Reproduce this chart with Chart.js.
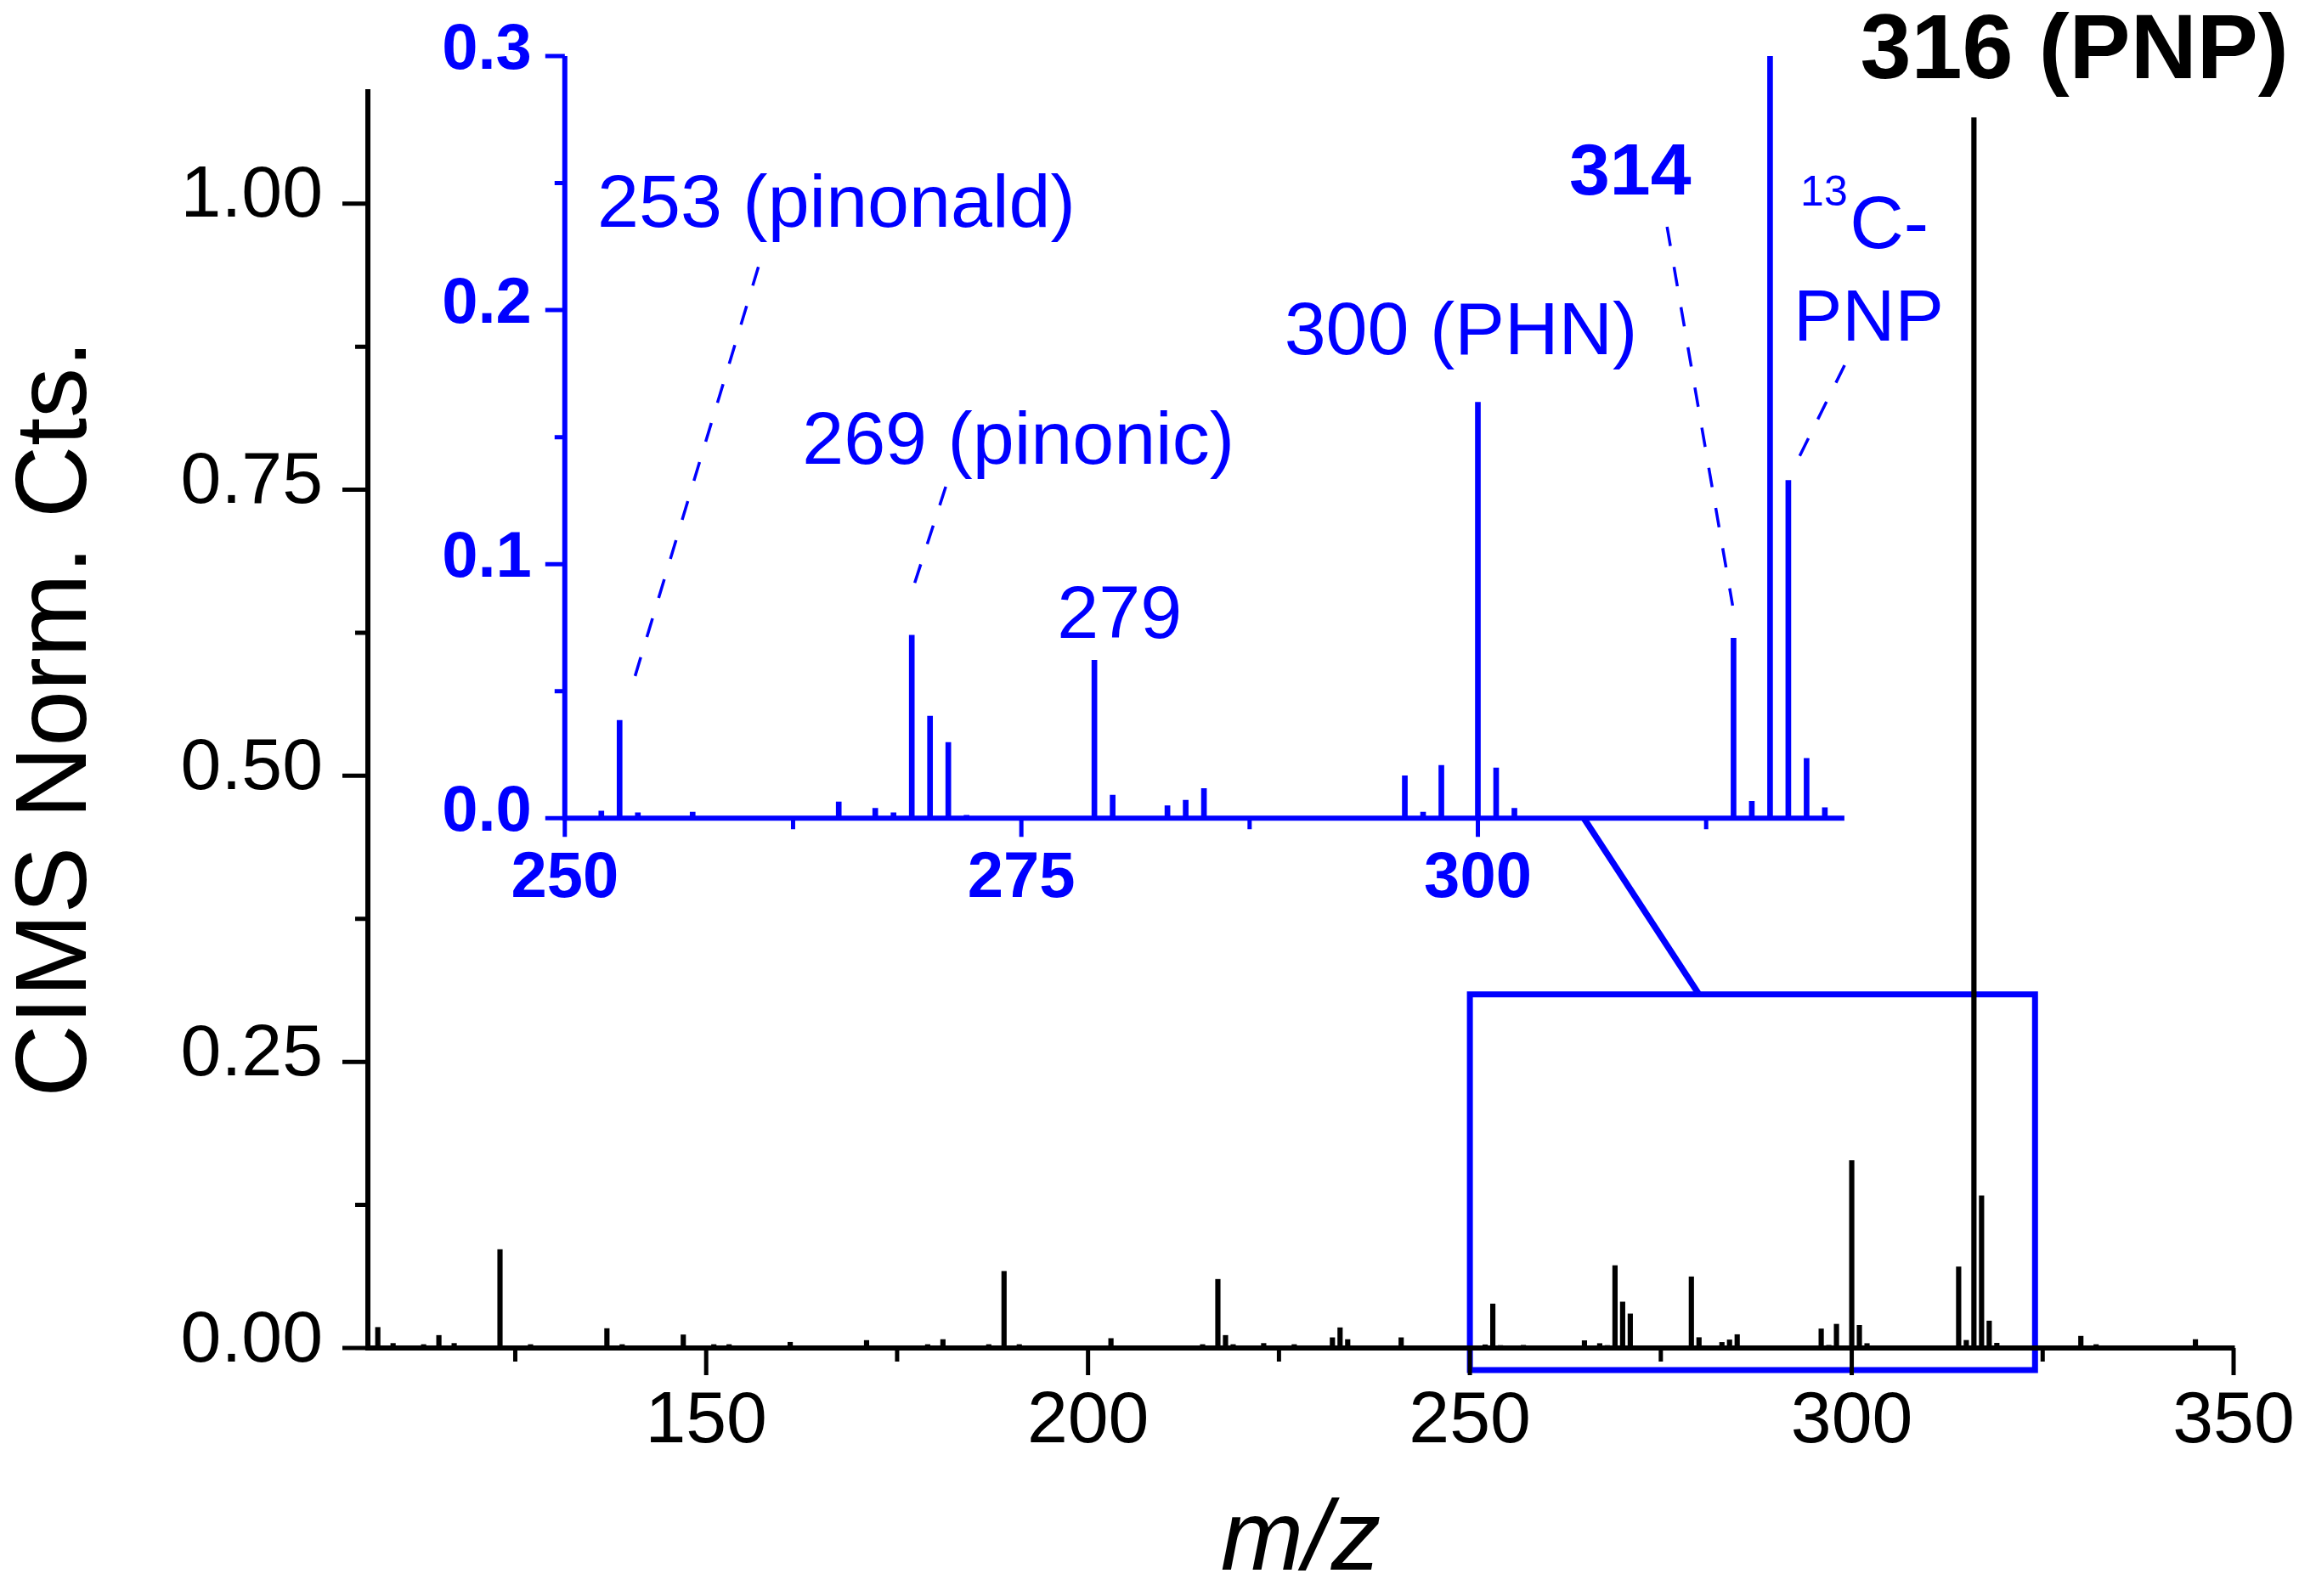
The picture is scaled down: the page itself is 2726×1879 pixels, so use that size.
<!DOCTYPE html>
<html>
<head>
<meta charset="utf-8">
<script src="https://cdn.jsdelivr.net/npm/chart.js"></script>
<style>
html,body{margin:0;padding:0;background:#fff;overflow:hidden;width:2726px;height:1879px}
canvas{position:absolute;left:0;top:0}
</style>
</head>
<body>
<canvas id="mainChart" width="2726" height="1879"></canvas>
<canvas id="insetChart" width="2726" height="1879"></canvas>
<script>
// ---- data ----
const mzValues = [107,109,113,115,117,122,123,127,133,137,139,142,147,148,151,153,155,161,167,171,179,181,187,189,191,203,215,217,218,219,223,227,232,233,234,241,252,253,254,257,265,267,268,269,270,271,272,279,280,283,284,285,296,297,298,300,301,302,314,315,316,317,318,319,330,332,345];
const intensities = [0.018,0.004,0.003,0.011,0.004,0.002,0.086,0.003,0.002,0.017,0.003,0.002,0.0115,0.002,0.003,0.003,0.002,0.005,0.002,0.0066,0.003,0.0074,0.003,0.067,0.003,0.0083,0.003,0.060,0.011,0.003,0.004,0.003,0.009,0.0177,0.0074,0.009,0.0028,0.0385,0.0022,0.0024,0.0064,0.0039,0.0022,0.072,0.0402,0.0298,0.0012,0.0622,0.0091,0.0049,0.0071,0.0117,0.0167,0.0024,0.0208,0.1637,0.0198,0.0039,0.0709,0.0067,1.075,0.133,0.0236,0.0042,0.0103,0.003,0.0074];
const mainXTickLabels = [150,200,250,300,350];
const mainYTickLabels = [0,0.25,0.5,0.75,1.0];
const insetXTickLabels = [250,275,300];
const insetYTickLabels = [0,0.1,0.2,0.3];
const insetPeakLabels = ['253 (pinonald)','269 (pinonic)','279','300 (PHN)','314','13','C-','PNP'];
const mainPeakLabel = '316 (PNP)';
const xTitle = 'm/z';
const yTitle = 'CIMS Norm. Cts.';

// ---- styling / layout ----
const FONT = '"Liberation Sans", Arial, Helvetica, sans-serif';
const BLUE = '#0000ff';
const points = mzValues.map((m, i) => ({x: m, y: intensities[i]}));
function near(v, list) { return list.some(t => Math.abs(t - v) < 1e-6); }

function drawAxes(chart, o) {
  const {ctx, chartArea: a} = chart;
  const xs = chart.scales.x, ys = chart.scales.y;
  ctx.save();
  ctx.strokeStyle = o.color;
  ctx.lineCap = 'butt';
  ctx.lineWidth = o.tickWidth;
  ctx.beginPath();
  xs.ticks.forEach(t => {
    const p = xs.getPixelForValue(t.value);
    const L = near(t.value, o.xMajor) ? o.majorX : o.minorX;
    ctx.moveTo(p, a.bottom); ctx.lineTo(p, a.bottom + L);
  });
  ys.ticks.forEach(t => {
    const p = ys.getPixelForValue(t.value);
    const L = near(t.value, o.yMajor) ? o.majorY : o.minorY;
    ctx.moveTo(a.left, p); ctx.lineTo(a.left - L, p);
  });
  ctx.stroke();
  ctx.lineWidth = o.axisWidth;
  ctx.beginPath();
  ctx.moveTo(a.left, a.top); ctx.lineTo(a.left, a.bottom);
  ctx.moveTo(a.left - o.axisWidth / 2, a.bottom); ctx.lineTo(a.right + o.axisWidth / 4, a.bottom);
  ctx.stroke();
  ctx.restore();
}

function drawText(ctx, text, x, y, font, color) {
  ctx.save();
  ctx.font = font; ctx.fillStyle = color;
  ctx.textAlign = 'left'; ctx.textBaseline = 'alphabetic';
  ctx.fillText(text, x, y);
  ctx.restore();
}

let mainChart = null;

const mainPlugin = {
  id: 'mainDecor',
  beforeDatasetsDraw(chart) {
    const {ctx} = chart; const xs = chart.scales.x, ys = chart.scales.y;
    const x0 = xs.getPixelForValue(250), x1 = xs.getPixelForValue(324);
    const y0 = ys.getPixelForValue(-0.0193), y1 = ys.getPixelForValue(0.309);
    ctx.save();
    ctx.strokeStyle = BLUE; ctx.lineWidth = 7; ctx.lineJoin = 'miter';
    ctx.strokeRect(x0, y1, x1 - x0, y0 - y1);
    ctx.restore();
  },
  afterDatasetsDraw(chart) {
    drawAxes(chart, {color: '#000', tickWidth: 5, axisWidth: 6, majorX: 32, minorX: 16, majorY: 30, minorY: 15,
      xMajor: mainXTickLabels, yMajor: mainYTickLabels});
    const xs = chart.scales.x, ys = chart.scales.y;
    drawText(chart.ctx, mainPeakLabel, xs.getPixelForValue(301.1), ys.getPixelForValue(1.1096), 'bold 108px ' + FONT, '#000');
  }
};

const insetLabelSpec = [
  {x: 251.78, y: 0.2328, font: '88px ' + FONT},
  {x: 263.0, y: 0.1395, font: '88px ' + FONT},
  {x: 276.96, y: 0.0710, font: '88px ' + FONT},
  {x: 289.4, y: 0.1826, font: '88px ' + FONT},
  {x: 305.0, y: 0.2455, font: 'bold 86px ' + FONT},
  {x: 317.66, y: 0.2412, font: '50px ' + FONT},
  {x: 320.36, y: 0.2243, font: '88px ' + FONT},
  {x: 317.28, y: 0.188, font: '86px ' + FONT}
];
const leaderSpec = [
  [253.6, 0.050, 260.6, 0.217],
  [269.0, 0.089, 270.86, 0.1305],
  [313.95, 0.0837, 310.36, 0.2328],
  [317.25, 0.1372, 320.08, 0.1783]
];

const insetPlugin = {
  id: 'insetDecor',
  afterDatasetsDraw(chart) {
    const {ctx} = chart; const xs = chart.scales.x, ys = chart.scales.y;
    drawAxes(chart, {color: BLUE, tickWidth: 5, axisWidth: 6, majorX: 22, minorX: 13, majorY: 23, minorY: 12,
      xMajor: insetXTickLabels, yMajor: insetYTickLabels});
    // dashed leader lines
    ctx.save();
    ctx.strokeStyle = BLUE; ctx.lineWidth = 3.5; ctx.setLineDash([23, 25]);
    leaderSpec.forEach(l => {
      ctx.beginPath();
      ctx.moveTo(xs.getPixelForValue(l[2]), ys.getPixelForValue(l[3]));
      ctx.lineTo(xs.getPixelForValue(l[0]), ys.getPixelForValue(l[1]));
      ctx.stroke();
    });
    ctx.restore();
    // labels
    insetPeakLabels.forEach((t, i) => {
      const s = insetLabelSpec[i];
      drawText(ctx, t, xs.getPixelForValue(s.x), ys.getPixelForValue(s.y), s.font, BLUE);
    });
    // connector from zoom box to inset axis
    if (mainChart) {
      const mx = mainChart.scales.x.getPixelForValue(280), my = mainChart.scales.y.getPixelForValue(0.309);
      ctx.save();
      ctx.strokeStyle = BLUE; ctx.lineWidth = 7.5;
      ctx.beginPath();
      ctx.moveTo(xs.getPixelForValue(305.8), ys.getPixelForValue(0));
      ctx.lineTo(mx, my);
      ctx.stroke();
      ctx.restore();
    }
  }
};

const noGrid = {display: false, drawTicks: false, drawOnChartArea: false};
function fixX(h) { return s => { s.height = h; s.paddingLeft = 0; s.paddingRight = 0; s.paddingTop = 0; s.paddingBottom = 0; }; }
function fixY(w) { return s => { s.width = w; s.paddingLeft = 0; s.paddingRight = 0; s.paddingTop = 0; s.paddingBottom = 0; }; }

mainChart = new Chart(document.getElementById('mainChart'), {
  type: 'bar',
  data: {datasets: [{data: points, backgroundColor: '#000', borderWidth: 0, barThickness: 5.5}]},
  options: {
    responsive: false, animation: false, devicePixelRatio: 1, events: [],
    layout: {padding: {left: 0, top: 105, right: 97, bottom: 0}},
    plugins: {legend: {display: false}, tooltip: {enabled: false}},
    scales: {
      x: {
        type: 'linear', min: 105.7, max: 350, offset: false,
        grid: noGrid, border: {display: false},
        ticks: {stepSize: 25, includeBounds: false, autoSkip: false, maxRotation: 0, minRotation: 0,
          padding: 36, color: '#000', font: {family: FONT, size: 86},
          callback: v => near(v, mainXTickLabels) ? String(Math.round(v)) : ''},
        title: {display: true, text: xTitle, color: '#000', font: {family: FONT, size: 117, style: 'italic', lineHeight: 1}, padding: {top: 0, bottom: 5}},
        afterFit: fixX(292)
      },
      y: {
        type: 'linear', min: 0, max: 1.1,
        grid: noGrid, border: {display: false},
        ticks: {stepSize: 0.125, includeBounds: false, autoSkip: false, padding: 53, labelOffset: -8,
          color: '#000', font: {family: FONT, size: 86},
          callback: v => near(v, mainYTickLabels) ? v.toFixed(2) : ''},
        title: {display: true, text: yTitle, color: '#000', font: {family: FONT, size: 118, lineHeight: 1}, padding: {top: 9, bottom: 0}},
        afterFit: fixY(433)
      }
    }
  },
  plugins: [mainPlugin]
});

new Chart(document.getElementById('insetChart'), {
  type: 'bar',
  data: {datasets: [{data: points, backgroundColor: BLUE, borderWidth: 0, barThickness: 6}]},
  options: {
    responsive: false, animation: false, devicePixelRatio: 1, events: [],
    layout: {padding: {left: 0, top: 66, right: 556.6, bottom: 765.7}},
    plugins: {legend: {display: false}, tooltip: {enabled: false}},
    scales: {
      x: {
        type: 'linear', min: 250, max: 320, offset: false,
        grid: noGrid, border: {display: false},
        ticks: {stepSize: 12.5, includeBounds: false, autoSkip: false, maxRotation: 0, minRotation: 0,
          padding: 26, color: BLUE, font: {family: FONT, size: 76, weight: 'bold'},
          callback: v => near(v, insetXTickLabels) ? String(Math.round(v)) : ''},
        afterFit: fixX(150)
      },
      y: {
        type: 'linear', min: 0, max: 0.3,
        grid: noGrid, border: {display: false},
        ticks: {stepSize: 0.05, includeBounds: false, autoSkip: false, padding: 39, labelOffset: -6,
          color: BLUE, font: {family: FONT, size: 76, weight: 'bold'},
          callback: v => near(v, insetYTickLabels) ? v.toFixed(1) : ''},
        afterFit: fixY(664.8)
      }
    }
  },
  plugins: [insetPlugin]
});
</script>
</body>
</html>
